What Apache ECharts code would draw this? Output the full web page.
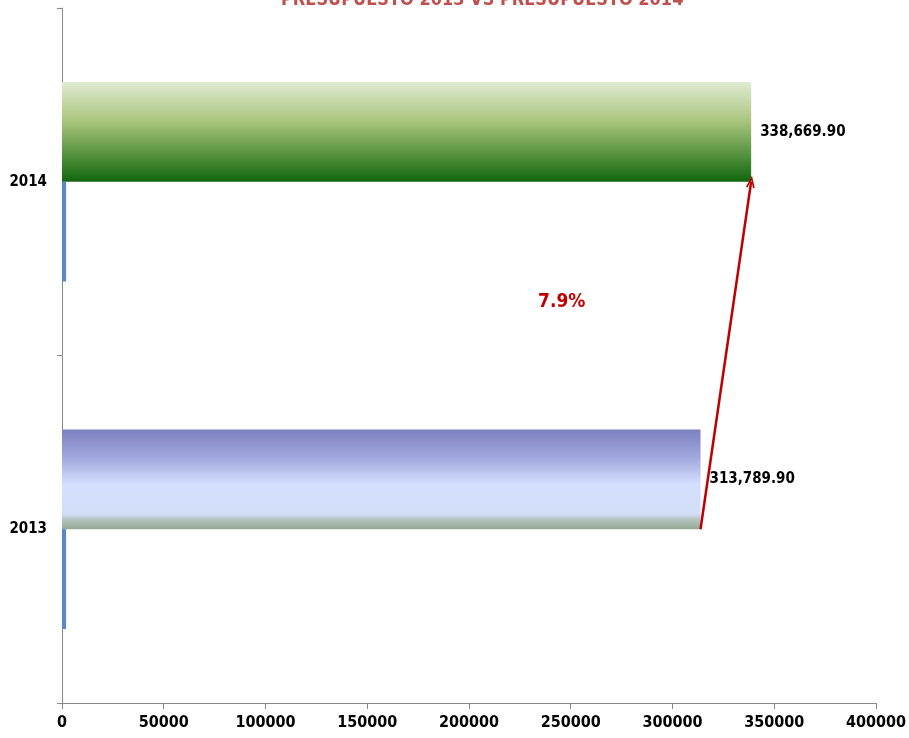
<!DOCTYPE html>
<html><head><meta charset="utf-8">
<script src="https://cdn.jsdelivr.net/npm/echarts@6/dist/echarts.min.js"></script>
<style>html,body{margin:0;padding:0;background:#fff}#c{width:909px;height:738px}</style>
</head><body><div id="c"></div>
<script>
var categories = ['2013', '2014'];
var presupuesto = [313789.90, 338669.90];
var secundario = [2000, 2000];
var xTicks = [0, 50000, 100000, 150000, 200000, 250000, 300000, 350000, 400000];
var titleText = 'PRESUPUESTO 2013 VS PRESUPUESTO 2014';
var changeText = '7.9%';

var FONT = '"DejaVu Sans Condensed", "Liberation Sans Narrow", "Arial Narrow", sans-serif';

var grad2013 = new echarts.graphic.LinearGradient(0, 0, 0, 1, [
  {offset: 0, color: '#7c80c0'},
  {offset: 0.3, color: '#a4abe0'},
  {offset: 0.55, color: '#d5e0ff'},
  {offset: 0.85, color: '#d2ddf6'},
  {offset: 0.9, color: '#b4c4c4'},
  {offset: 1, color: '#94aa94'}
]);
var grad2014 = new echarts.graphic.LinearGradient(0, 0, 0, 1, [
  {offset: 0, color: '#e0ebd2'},
  {offset: 0.4, color: '#a8c47c'},
  {offset: 0.75, color: '#4f8e3a'},
  {offset: 1, color: '#11660f'}
]);

var chart = echarts.init(document.getElementById('c'));
chart.setOption({
  animation: false,
  title: {
    text: titleText, left: 276, top: -14,
    textStyle: {color: '#c0504d', fontSize: 18, fontWeight: 'bold', fontFamily: FONT}
  },
  grid: {left: 62, right: 32, top: 8, bottom: 35},
  xAxis: {
    type: 'value', min: xTicks[0], max: xTicks[xTicks.length - 1], interval: 50000,
    splitLine: {show: false},
    axisLine: {show: true, lineStyle: {color: '#888', width: 1}},
    axisTick: {show: true, length: 6, lineStyle: {color: '#888'}},
    axisLabel: {color: '#000', fontWeight: 'bold', fontSize: 16, fontFamily: FONT, margin: 12,
      formatter: function (v) { return String(v); }}
  },
  yAxis: {
    type: 'category', data: categories,
    axisLine: {show: true, lineStyle: {color: '#888', width: 1}},
    axisTick: {show: true, length: 5, lineStyle: {color: '#888'}},
    axisLabel: {color: '#000', fontWeight: 'bold', fontSize: 15, fontFamily: FONT, margin: 15}
  },
  series: [
    {
      type: 'bar', barWidth: '28.7%', barGap: '0%',
      data: [
        {value: presupuesto[0], itemStyle: {color: grad2013}},
        {value: presupuesto[1], itemStyle: {color: grad2014}}
      ],
      label: {
        show: true, position: 'right', distance: 9,
        color: '#000', fontWeight: 'bold', fontSize: 15, fontFamily: FONT,
        formatter: function (p) {
          return p.value.toLocaleString('en-US', {minimumFractionDigits: 2, maximumFractionDigits: 2});
        }
      }
    },
    {
      type: 'bar', data: secundario, barWidth: '28.7%', barGap: '0%',
      itemStyle: {color: '#5a87c8'}, silent: true
    },
    {
      type: 'line', data: [], silent: true, showSymbol: false,
      markLine: {
        silent: true,
        symbol: ['none', 'path://M0,12 L5,0 L10,12 L8,12 L5,4.5 L2,12 Z'], symbolSize: [9, 12],
        lineStyle: {color: '#c00000', width: 2.5, type: 'solid'},
        label: {show: false},
        data: [[
          {coord: [presupuesto[0], categories[0]]},
          {coord: [presupuesto[1], categories[1]]}
        ]]
      }
    }
  ],
  graphic: [{
    type: 'text', left: 538, top: 293,
    style: {text: changeText, fill: '#c00000', font: 'bold 19px ' + FONT}
  }]
});
</script></body></html>
